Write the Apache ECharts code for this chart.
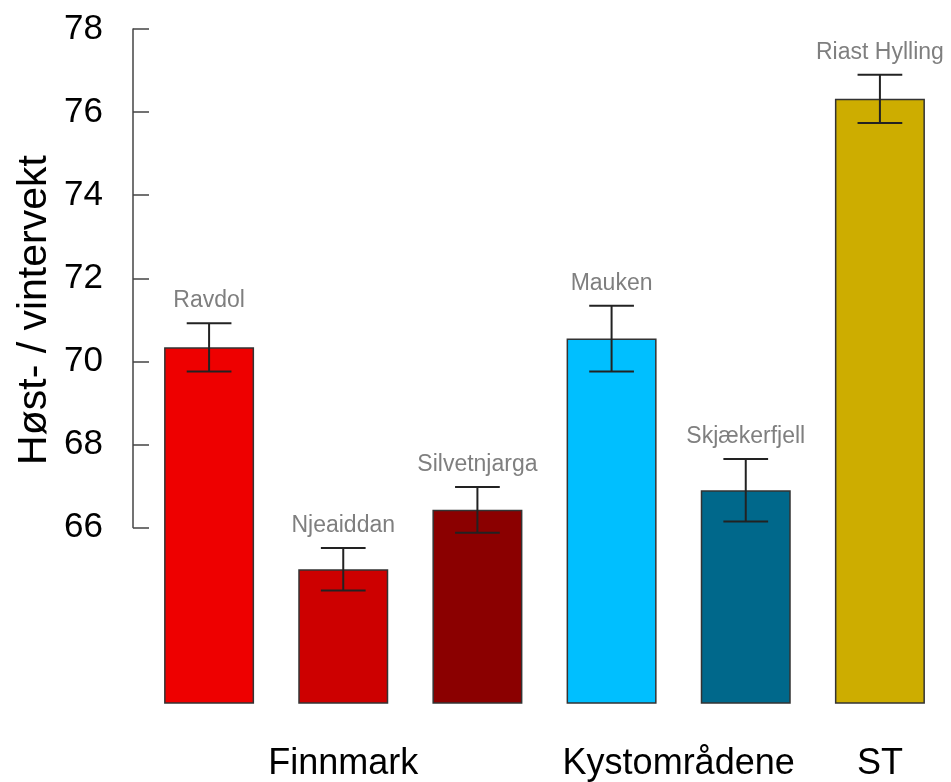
<!DOCTYPE html>
<html>
<head>
<meta charset="utf-8">
<script src="https://cdn.jsdelivr.net/npm/echarts@6/dist/echarts.min.js"></script>
<style>html,body{margin:0;padding:0;background:#fff}#c{width:951px;height:782px}</style>
</head>
<body>
<div id="c"></div>
<script>
const sites = ['Ravdol', 'Njeaiddan', 'Silvetnjarga', 'Mauken', 'Skjækerfjell', 'Riast Hylling'];
const regionOf = ['Finnmark', 'Finnmark', 'Finnmark', 'Kystområdene', 'Kystområdene', 'ST'];
const means = [70.34, 65.0, 66.43, 70.55, 66.9, 76.32];
const errors = [0.58, 0.51, 0.55, 0.79, 0.75, 0.58];
const colors = ['#EE0000', '#CD0000', '#8B0000', '#00BFFF', '#00688B', '#CDAD00'];
const yTicks = [66, 68, 70, 72, 74, 76, 78];
const yTitle = 'Høst- / vintervekt';

const FONT = "'Liberation Sans', Arial, sans-serif";

// group label positions: centre of the categories belonging to each region
const groups = [];
regionOf.forEach((g, i) => {
  let e = groups.find(x => x.name === g);
  if (!e) { e = { name: g, first: i, last: i }; groups.push(e); }
  e.last = i;
});
const groupCentre = {};
groups.forEach(g => { groupCentre[((g.first + g.last + 1) / 2).toFixed(2)] = g.name; });

const chart = echarts.init(document.getElementById('c'), null, { renderer: 'canvas' });
chart.setOption({
  backgroundColor: '#fff',
  animation: false,
  grid: [
    { left: 142, right: 4, top: 29, bottom: 79 },
    { left: 142, right: 4, top: 29, bottom: 254.5 }
  ],
  xAxis: [
    { type: 'category', gridIndex: 0, data: sites, show: false },
    {
      type: 'value', gridIndex: 0, min: 0, max: 6, interval: 0.5, position: 'bottom',
      axisLine: { show: false }, axisTick: { show: false }, splitLine: { show: false },
      axisLabel: {
        show: true, margin: 61, verticalAlign: 'middle', fontSize: 36, color: '#000', fontFamily: FONT,
        showMinLabel: true, showMaxLabel: true,
        formatter: v => groupCentre[Number(v).toFixed(2)] || ''
      }
    },
    { type: 'category', gridIndex: 1, data: sites, show: false }
  ],
  yAxis: [
    { type: 'value', gridIndex: 0, min: 61.78, max: 78, show: false },
    {
      type: 'value', gridIndex: 1, min: yTicks[0], max: yTicks[yTicks.length - 1], interval: 2, offset: 9,
      axisLine: { show: true, lineStyle: { color: '#444', width: 1.5 } },
      axisTick: { show: true, inside: true, length: 16, lineStyle: { color: '#444', width: 1.5 } },
      splitLine: { show: false },
      axisLabel: { margin: 30, fontSize: 35, color: '#000', fontFamily: FONT }
    }
  ],
  graphic: [{
    type: 'text', x: 35, y: 310, rotation: Math.PI / 2,
    style: { text: yTitle, font: '41px ' + FONT, fill: '#000', align: 'center', verticalAlign: 'middle' }
  }],
  series: [
    {
      type: 'bar', xAxisIndex: 0, yAxisIndex: 0, barWidth: 90,
      data: means.map((m, i) => ({
        value: m,
        itemStyle: { color: colors[i], borderColor: '#333', borderWidth: 1.5 }
      }))
    },
    {
      type: 'custom', xAxisIndex: 0, yAxisIndex: 0, z: 5,
      encode: { x: 0, y: 1 },
      data: means.map((m, i) => [i, m, errors[i], sites[i]]),
      renderItem: (params, api) => {
        const x = api.value(0), m = api.value(1), e = api.value(2);
        const top = api.coord([x, m + e]);
        const bot = api.coord([x, m - e]);
        const hw = api.size([1, 0])[0] / 6;
        const ls = { stroke: '#222', lineWidth: 2 };
        return {
          type: 'group',
          children: [
            { type: 'line', shape: { x1: top[0], y1: top[1], x2: bot[0], y2: bot[1] }, style: ls },
            { type: 'line', shape: { x1: top[0] - hw, y1: top[1], x2: top[0] + hw, y2: top[1] }, style: ls },
            { type: 'line', shape: { x1: bot[0] - hw, y1: bot[1], x2: bot[0] + hw, y2: bot[1] }, style: ls },
            {
              type: 'text', x: top[0], y: top[1] - 11,
              style: { text: sites[params.dataIndex], font: '23px ' + FONT, fill: '#7f7f7f', align: 'center', verticalAlign: 'bottom' }
            }
          ]
        };
      }
    }
  ]
});
</script>
</body>
</html>
